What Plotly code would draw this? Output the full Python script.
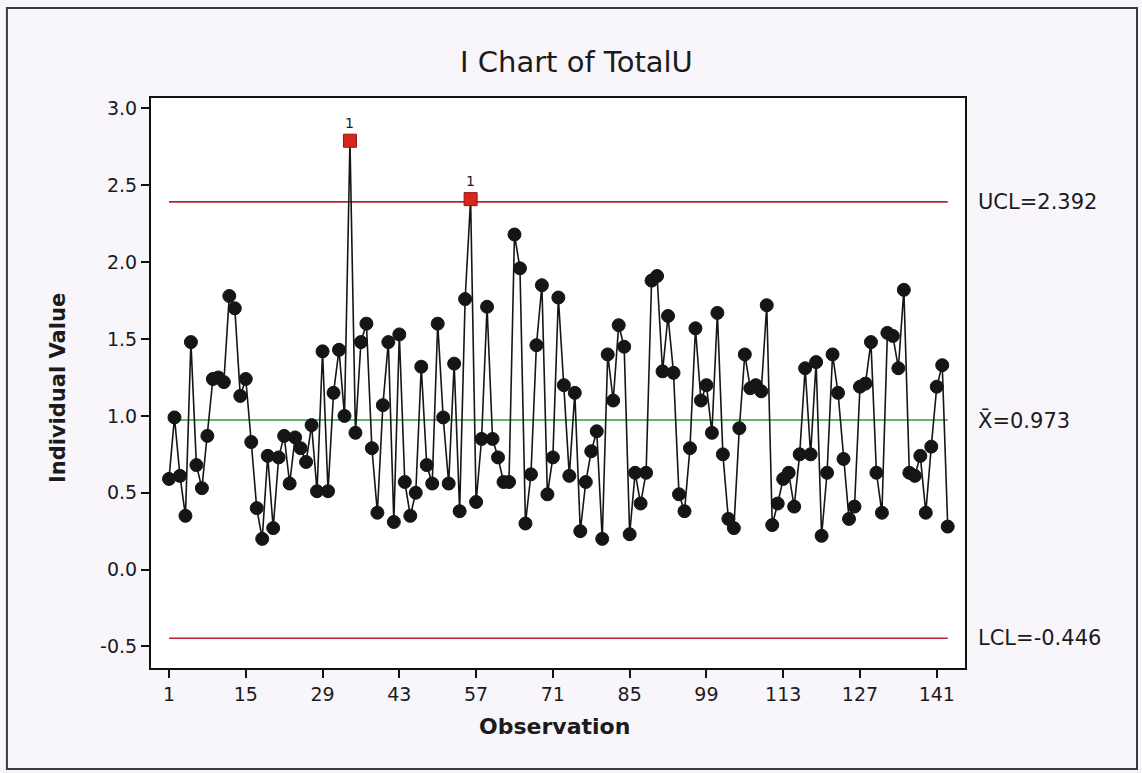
import plotly.graph_objects as go

# Individuals chart of TotalU: one value per observation
observation = list(range(1, 144))
total_u = [
    0.59, 0.99, 0.61, 0.35, 1.48, 0.68, 0.53, 0.87, 1.24, 1.25,
    1.22, 1.78, 1.70, 1.13, 1.24, 0.83, 0.40, 0.20, 0.74, 0.27,
    0.73, 0.87, 0.56, 0.86, 0.79, 0.70, 0.94, 0.51, 1.42, 0.51,
    1.15, 1.43, 1.00, 2.79, 0.89, 1.48, 1.60, 0.79, 0.37, 1.07,
    1.48, 0.31, 1.53, 0.57, 0.35, 0.50, 1.32, 0.68, 0.56, 1.60,
    0.99, 0.56, 1.34, 0.38, 1.76, 2.41, 0.44, 0.85, 1.71, 0.85,
    0.73, 0.57, 0.57, 2.18, 1.96, 0.30, 0.62, 1.46, 1.85, 0.49,
    0.73, 1.77, 1.20, 0.61, 1.15, 0.25, 0.57, 0.77, 0.90, 0.20,
    1.40, 1.10, 1.59, 1.45, 0.23, 0.63, 0.43, 0.63, 1.88, 1.91,
    1.29, 1.65, 1.28, 0.49, 0.38, 0.79, 1.57, 1.10, 1.20, 0.89,
    1.67, 0.75, 0.33, 0.27, 0.92, 1.40, 1.18, 1.20, 1.16, 1.72,
    0.29, 0.43, 0.59, 0.63, 0.41, 0.75, 1.31, 0.75, 1.35, 0.22,
    0.63, 1.40, 1.15, 0.72, 0.33, 0.41, 1.19, 1.21, 1.48, 0.63,
    0.37, 1.54, 1.52, 1.31, 1.82, 0.63, 0.61, 0.74, 0.37, 0.80,
    1.19, 1.33, 0.28,
]

UCL = 2.392
CENTER = 0.973
LCL = -0.446

y_ticks = [-0.5, 0.0, 0.5, 1.0, 1.5, 2.0, 2.5, 3.0]
x_ticks = [1, 15, 29, 43, 57, 71, 85, 99, 113, 127, 141]

FONT = "DejaVu Sans"
INK = "#1b1b1b"
LIMIT_RED = "#b8232e"
CENTER_GREEN = "#2f9a3a"

out_of_control = [v > UCL or v < LCL for v in total_u]
marker_colors = ["#d8261d" if f else "#151515" for f in out_of_control]
marker_symbols = ["square" if f else "circle" for f in out_of_control]
marker_lines = ["#8e1510" if f else "#151515" for f in out_of_control]

fig = go.Figure()

x_span = [observation[0], observation[-1]]
fig.add_trace(go.Scatter(x=x_span, y=[UCL, UCL], mode="lines",
                         line=dict(color=LIMIT_RED, width=1.6), hoverinfo="skip"))
fig.add_trace(go.Scatter(x=x_span, y=[LCL, LCL], mode="lines",
                         line=dict(color=LIMIT_RED, width=1.6), hoverinfo="skip"))
fig.add_trace(go.Scatter(x=x_span, y=[CENTER, CENTER], mode="lines",
                         line=dict(color=CENTER_GREEN, width=1.6), hoverinfo="skip"))

fig.add_trace(go.Scatter(x=observation, y=total_u, mode="lines",
                         line=dict(color="#151515", width=1.6)))
fig.add_trace(go.Scatter(
    x=observation, y=total_u, mode="markers",
    marker=dict(size=13, color=marker_colors, symbol=marker_symbols,
                line=dict(color=marker_lines, width=1)),
))

annotations = []
for x, v, f in zip(observation, total_u, out_of_control):
    if f:
        annotations.append(dict(x=x, y=v, xref="x", yref="y", text="1",
                                showarrow=False, yshift=18,
                                font=dict(family=FONT, size=14, color=INK)))

right_labels = [
    (UCL, f"UCL={UCL:.3f}"),
    (CENTER, f"X\u0304={CENTER:.3f}"),
    (LCL, f"LCL={LCL:.3f}"),
]
for y, txt in right_labels:
    annotations.append(dict(x=1.0135, y=y, xref="paper", yref="y", text=txt,
                            showarrow=False, xanchor="left", yanchor="middle",
                            font=dict(family=FONT, size=21, color=INK)))

annotations.append(dict(x=0.523, y=1.063, xref="paper", yref="paper",
                        text="I Chart of TotalU", showarrow=False,
                        xanchor="center", yanchor="middle",
                        font=dict(family=FONT, size=29, color=INK)))
annotations.append(dict(x=0.496, y=-0.1035, xref="paper", yref="paper",
                        text="<b>Observation</b>", showarrow=False,
                        xanchor="center", yanchor="middle",
                        font=dict(family=FONT, size=22, color=INK)))
annotations.append(dict(x=-0.1143, y=0.491, xref="paper", yref="paper",
                        text="<b>Individual Value</b>", showarrow=False,
                        textangle=-90, xanchor="center", yanchor="middle",
                        font=dict(family=FONT, size=21, color=INK)))

fig.update_layout(
    width=1142, height=773, autosize=False,
    margin=dict(l=151, r=177, t=98, b=105),
    paper_bgcolor="#f8f6fa",
    plot_bgcolor="#ffffff",
    showlegend=False,
    annotations=annotations,
    shapes=[dict(type="rect", xref="paper", yref="paper",
                 x0=-0.177, x1=1.2113, y0=-0.1772, y1=1.1579,
                 line=dict(color="#3a3a3a", width=2), layer="below")],
    xaxis=dict(range=[-2.28, 146.15], tickvals=x_ticks,
               ticktext=[str(t) for t in x_ticks],
               showgrid=False, zeroline=False,
               showline=True, linecolor="#111111", linewidth=2, mirror=True,
               ticks="outside", ticklen=8, tickwidth=1.5, tickcolor="#111111",
               tickfont=dict(family=FONT, size=19, color=INK)),
    yaxis=dict(range=[-0.64, 3.068], tickvals=y_ticks,
               ticktext=[f"{t:.1f}" for t in y_ticks],
               showgrid=False, zeroline=False,
               showline=True, linecolor="#111111", linewidth=2, mirror=True,
               ticks="outside", ticklen=8, tickwidth=1.5, tickcolor="#111111",
               tickfont=dict(family=FONT, size=19, color=INK)),
)

fig.write_html("out.html")
